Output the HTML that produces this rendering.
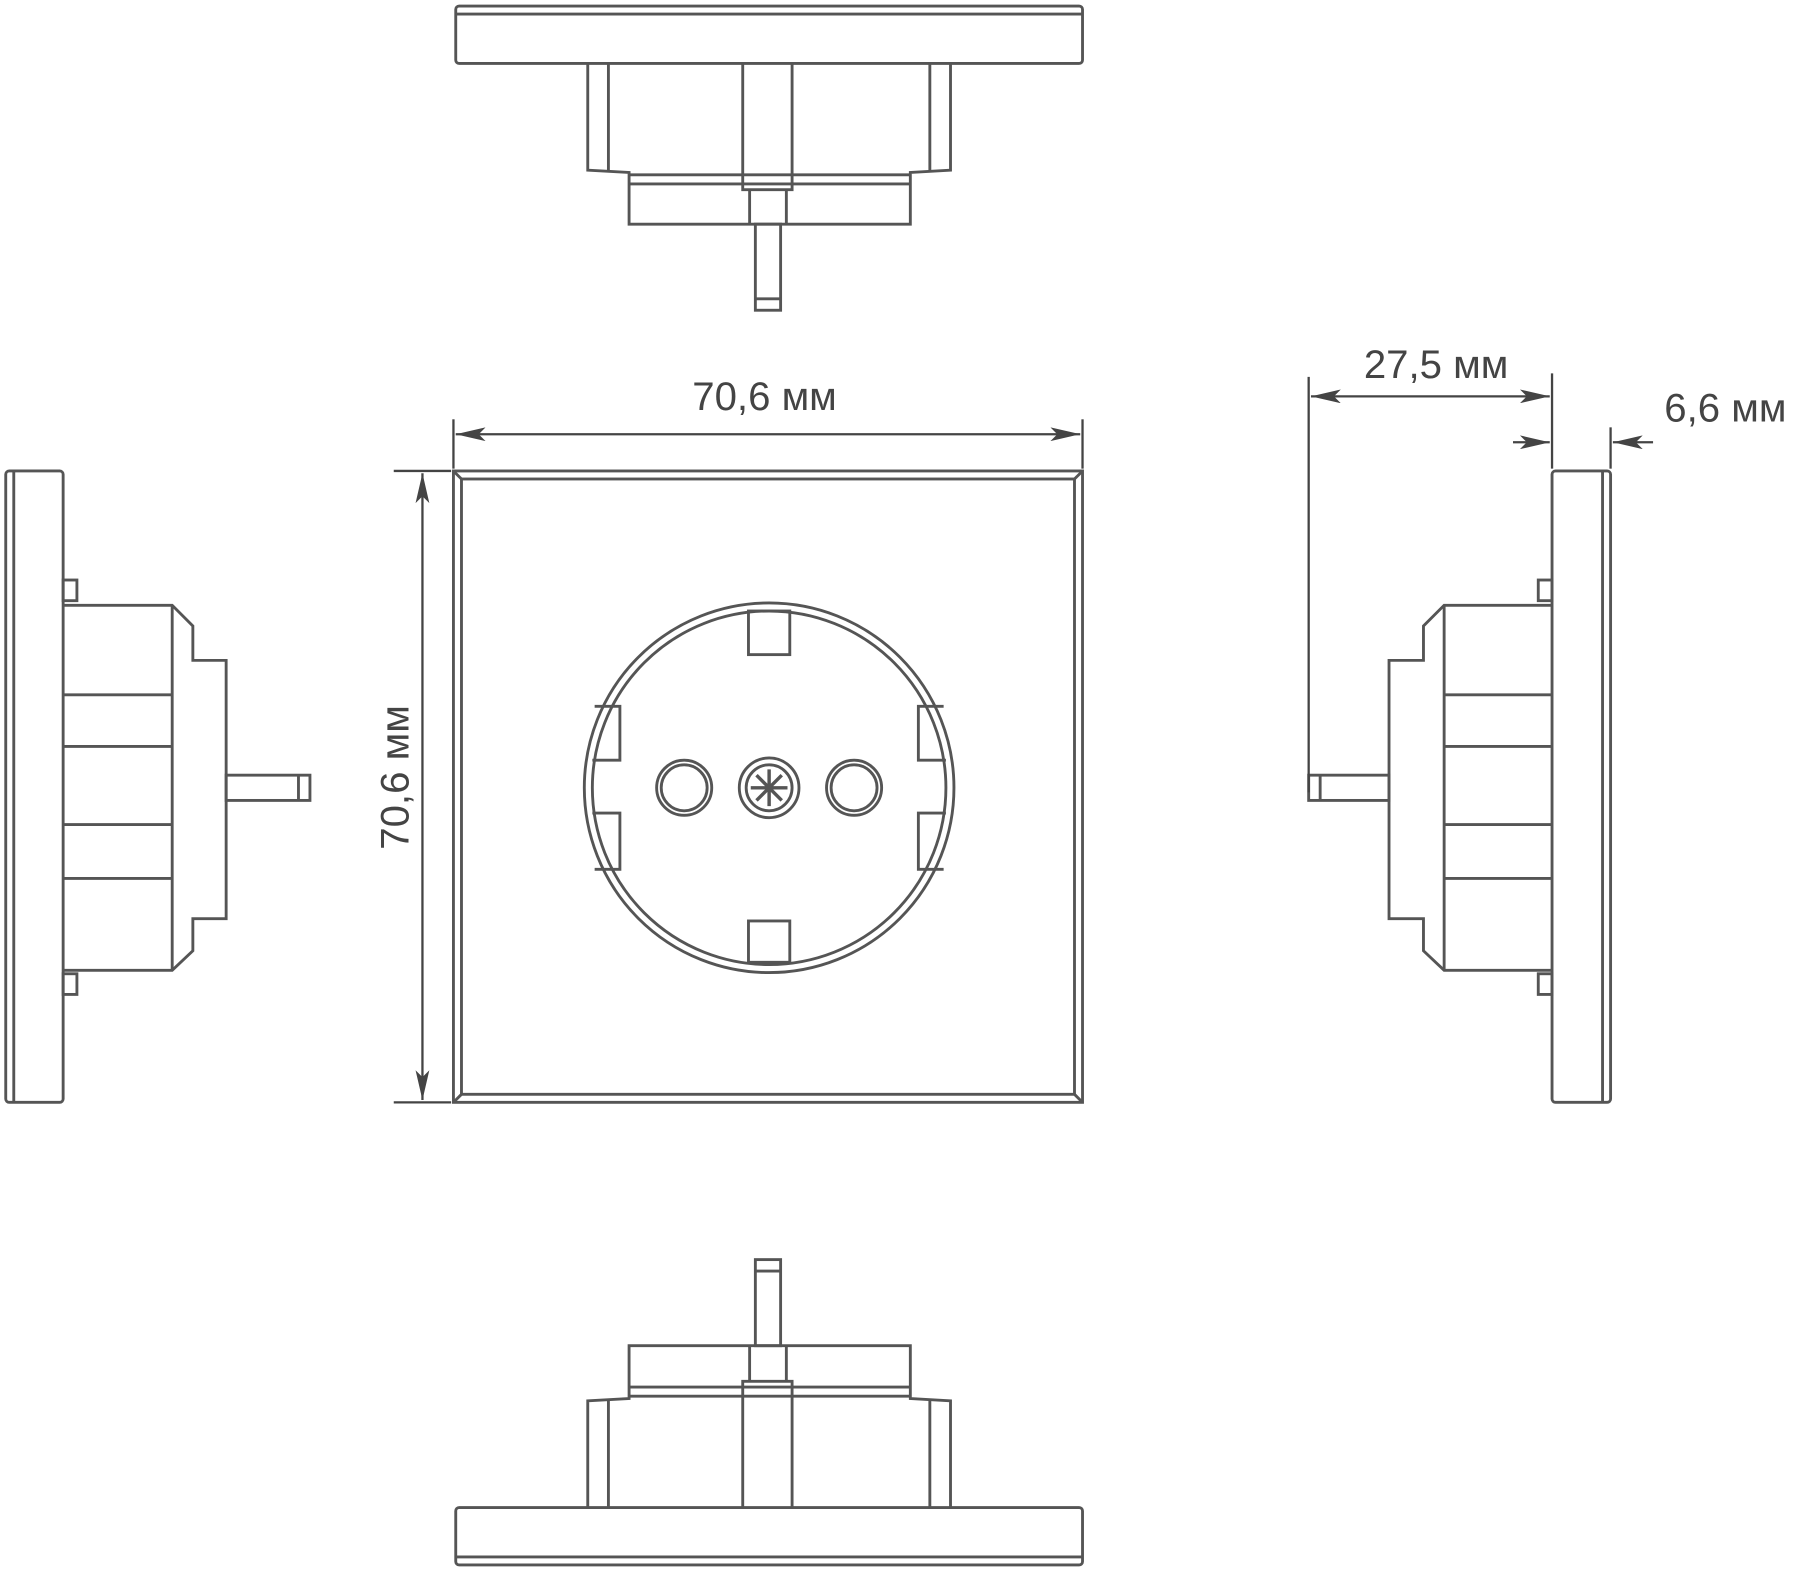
<!DOCTYPE html>
<html><head><meta charset="utf-8"><style>
html,body{margin:0;padding:0;background:#fff;}
svg{display:block;}
text{font-family:"Liberation Sans",sans-serif;fill:#444;}
</style></head><body>
<svg width="1800" height="1571" viewBox="0 0 1568 1368" xmlns="http://www.w3.org/2000/svg">
<defs>
<marker id="a" viewBox="0 0 26 12" refX="26" refY="6" markerWidth="26" markerHeight="12" markerUnits="userSpaceOnUse" orient="auto-start-reverse">
<path d="M0,0 L26,6 L0,12 L6,6 Z" fill="#444"/></marker>
</defs>
<g fill="none" stroke="#555" stroke-width="2.5">
<rect x="395" y="410" width="548" height="550"/>
<rect x="402" y="417" width="534" height="536"/>
<line x1="395" y1="410" x2="402" y2="417"/><line x1="943" y1="410" x2="936" y2="417"/>
<line x1="395" y1="960" x2="402" y2="953"/><line x1="943" y1="960" x2="936" y2="953"/>
<circle cx="670" cy="686" r="161"/>
<circle cx="670" cy="686" r="154"/>
<rect x="652" y="532" width="36" height="38"/>
<rect x="652" y="802" width="36" height="36"/>
<path d="M518,615 L540,615 L540,662 L516,662"/>
<path d="M516,708 L540,708 L540,757 L518,757"/>
<path d="M822,615 L800,615 L800,662 L824,662"/>
<path d="M824,708 L800,708 L800,757 L822,757"/>
<circle cx="596" cy="686" r="24"/><circle cx="596" cy="686" r="20"/>
<circle cx="744" cy="686" r="24"/><circle cx="744" cy="686" r="20"/>
<circle cx="670" cy="686" r="26"/><circle cx="670" cy="686" r="20"/>
<path d="M670,670 L670,702 M654,686 L686,686 M659,675 L681,697 M681,675 L659,697" stroke-width="3"/>
<rect x="397" y="5" width="546" height="50" rx="3"/>
<line x1="397" y1="12" x2="943" y2="12"/>
<path d="M512,55 L512,148 L548,150 L548,195 L793,195 L793,150 L828,148 L828,55"/>
<line x1="530" y1="55" x2="530" y2="148"/><line x1="810" y1="55" x2="810" y2="148"/>
<line x1="548" y1="152" x2="793" y2="152"/><line x1="548" y1="160" x2="793" y2="160"/>
<path d="M647,55 L647,165 L690,165 L690,55"/><path d="M653,165 L653,195 M685,165 L685,195"/>
<rect x="658" y="195" width="22" height="75"/><line x1="658" y1="260" x2="680" y2="260"/>
<rect x="397" y="1313" width="546" height="50" rx="3"/>
<line x1="397" y1="1356" x2="943" y2="1356"/>
<path d="M512,1313 L512,1220 L548,1218 L548,1172 L793,1172 L793,1218 L828,1220 L828,1313"/>
<line x1="530" y1="1220" x2="530" y2="1313"/><line x1="810" y1="1220" x2="810" y2="1313"/>
<line x1="548" y1="1216" x2="793" y2="1216"/><line x1="548" y1="1208" x2="793" y2="1208"/>
<path d="M647,1313 L647,1203 L690,1203 L690,1313"/><path d="M653,1203 L653,1172 M685,1203 L685,1172"/>
<rect x="658" y="1097" width="22" height="75"/><line x1="658" y1="1107" x2="680" y2="1107"/>
<rect x="5" y="410" width="50" height="550" rx="3"/>
<line x1="12" y1="410" x2="12" y2="960"/>
<path d="M55,527 L150,527 L168,545 L168,575 L197,575 L197,800 L168,800 L168,828 L150,845 L55,845"/>
<line x1="150" y1="527" x2="150" y2="845"/>
<line x1="55" y1="605" x2="150" y2="605"/><line x1="55" y1="650" x2="150" y2="650"/>
<line x1="55" y1="718" x2="150" y2="718"/><line x1="55" y1="765" x2="150" y2="765"/>
<rect x="197" y="675" width="73" height="22"/><line x1="260" y1="675" x2="260" y2="697"/>
<rect x="55" y="505" width="12" height="18"/><rect x="55" y="848" width="12" height="18"/>
<rect x="1352" y="410" width="51" height="550" rx="3"/>
<line x1="1396" y1="410" x2="1396" y2="960"/>
<path d="M1352,527 L1258,527 L1240,545 L1240,575 L1210,575 L1210,800 L1240,800 L1240,828 L1258,845 L1352,845"/>
<line x1="1258" y1="527" x2="1258" y2="845"/>
<line x1="1258" y1="605" x2="1352" y2="605"/><line x1="1258" y1="650" x2="1352" y2="650"/>
<line x1="1258" y1="718" x2="1352" y2="718"/><line x1="1258" y1="765" x2="1352" y2="765"/>
<rect x="1140" y="675" width="70" height="22"/><line x1="1150" y1="675" x2="1150" y2="697"/>
<rect x="1340" y="505" width="12" height="18"/><rect x="1340" y="848" width="12" height="18"/>
</g>
<g stroke="#444" stroke-width="2" fill="none">
<line x1="395" y1="365" x2="395" y2="408"/><line x1="943" y1="365" x2="943" y2="408"/>
<line x1="397" y1="378" x2="941" y2="378" marker-start="url(#a)" marker-end="url(#a)"/>
<line x1="343" y1="410" x2="393" y2="410"/><line x1="343" y1="960" x2="393" y2="960"/>
<line x1="368" y1="412" x2="368" y2="958" marker-start="url(#a)" marker-end="url(#a)"/>
<line x1="1140" y1="328" x2="1140" y2="690"/><line x1="1352" y1="325" x2="1352" y2="408"/>
<line x1="1142" y1="345" x2="1350" y2="345" marker-start="url(#a)" marker-end="url(#a)"/>
<line x1="1403" y1="372" x2="1403" y2="408"/>
<line x1="1318" y1="385" x2="1350" y2="385" marker-end="url(#a)"/>
<line x1="1440" y1="385" x2="1405" y2="385" marker-end="url(#a)"/>
</g>
<text x="666" y="357" font-size="35" text-anchor="middle">70,6 мм</text>
<text transform="translate(356,677) rotate(-90)" font-size="35" text-anchor="middle">70,6 мм</text>
<text x="1251" y="329" font-size="35" text-anchor="middle">27,5 мм</text>
<text x="1503" y="367" font-size="35" text-anchor="middle">6,6 мм</text>
</svg>
</body></html>
